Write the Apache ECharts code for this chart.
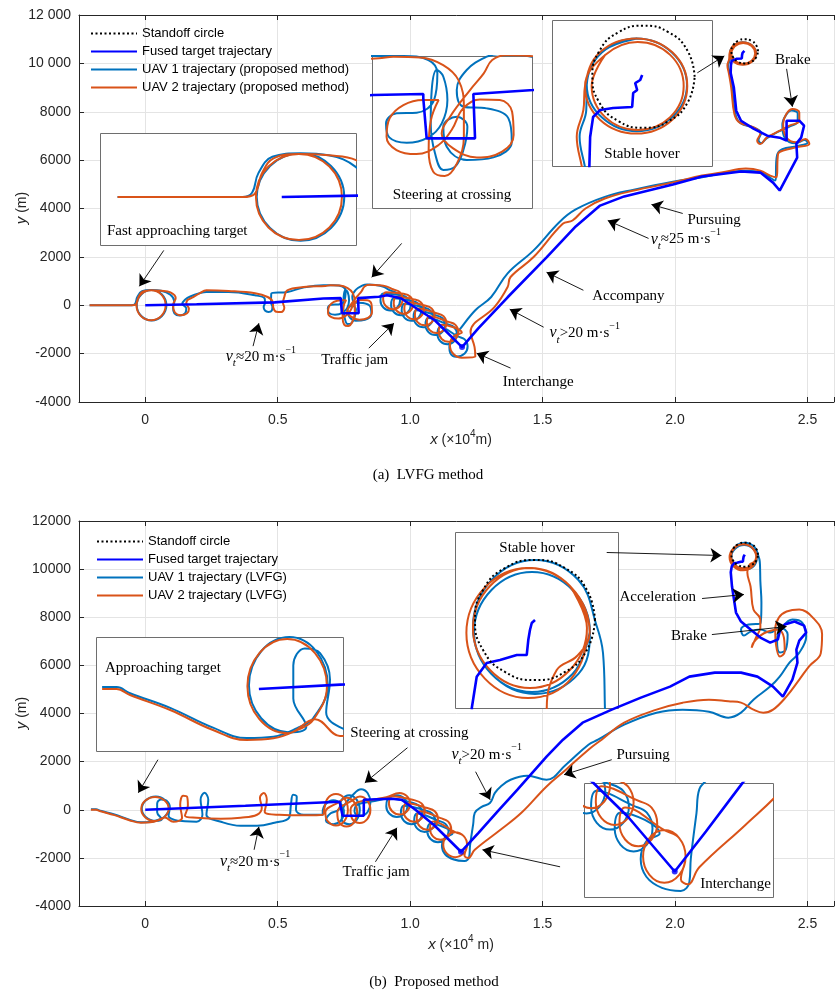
<!DOCTYPE html>
<html><head><meta charset="utf-8">
<script src="https://cdn.jsdelivr.net/npm/echarts@6/dist/echarts.min.js"></script>
<style>html,body{margin:0;padding:0;background:#fff}#c{width:837px;height:994px}</style>
</head><body><div id="c"></div>
<script>
// ---------- tick labels ----------
const xTickValues = [0, 0.5, 1.0, 1.5, 2.0, 2.5];
const xTickLabels = ['0', '0.5', '1.0', '1.5', '2.0', '2.5'];
const yTickValues = [-4000, -2000, 0, 2000, 4000, 6000, 8000, 10000, 12000];

// ---------- (a) data : x in 10^4 m, y in m ----------
const standoffA = [[2.313,10500],[2.3063,10750],[2.288,10933],[2.263,11000],[2.238,10933],[2.2197,10750],[2.213,10500],[2.2197,10250],[2.238,10067],[2.263,10000],[2.288,10067],[2.3063,10250],[2.313,10500]];
const fusedA = [[0,0],[0.194,40],[0.488,120],[0.6727,282],[0.738,296],[0.738,234],[0.7424,-330],[0.8056,-330],[0.8034,296],[0.8819,352],[0.913,412],[0.965,290],[1.0,40],[1.093,-620],[1.196,-1730],[1.258,-950],[1.368,330],[1.515,1980],[1.625,3260],[1.717,4120],[1.808,4500],[1.992,4990],[2.102,5320],[2.249,5530],[2.322,5485],[2.37,5070],[2.395,4743],[2.421,5279],[2.461,6104],[2.458,6681],[2.476,6928],[2.487,7423],[2.469,7629],[2.421,7629],[2.421,6805],[2.395,6928],[2.348,7011],[2.296,7299],[2.249,7629],[2.231,8042],[2.222,9000],[2.21,9600],[2.2108,9909],[2.2137,10105],[2.2206,10174],[2.2333,10193],[2.2519,10203],[2.2529,10340],[2.2568,10370],[2.2549,10438],[2.2598,10468],[2.2617,10517]];
const uav1A = [[-0.21,0],[-0.05,0],[-0.038,60],[-0.03,340],[-0.012,580],[0.024,630],
 [0.063,446],[0.08,0],[0.063,-446],[0.024,-630],[-0.015,-446],[-0.032,0],[-0.015,446],[0.024,630],
 [0.06,600],[0.095,430],[0.11,150],[0.105,-100],[0.11,-330],[0.13,-420],[0.15,-340],[0.155,-130],[0.14,60],[0.15,230],
 [0.17,360],[0.231,550],[0.315,550],[0.415,412],[0.451,275],[0.452,100],[0.447,-69],[0.452,-215],[0.465,-275],[0.478,-215],[0.48,-69],[0.475,100],[0.476,482],[0.537,550],[0.60,740],
 [0.6727,832],[0.712,832],[0.7446,776],[0.7564,588],[0.752,211],[0.7294,32],[0.7032,23],[0.6893,-119],[0.6936,-316],[0.7163,-392],[0.7446,-316],[0.7621,-119],[0.7695,211],[0.7642,540],[0.7555,635],[0.749,352],[0.7477,-119],[0.7533,-542],[0.7642,-777],[0.7795,-730],[0.7904,-495],[0.7956,-166],[0.7817,-24],[0.7642,-166],[0.7686,-448],[0.7947,-636],[0.8296,-599],[0.8536,-377],[0.8492,-48],[0.8209,93],[0.7904,117],[0.7817,352],[0.7947,635],[0.8209,823],[0.8383,861],
 [0.87,840],[0.90,760],
 [0.925,612],[0.951,490],[0.962,200],[0.951,-90],[0.925,-212],[0.899,-90],[0.888,200],[0.899,490],
 [0.965,412],[0.991,290],[1.002,0],[0.991,-290],[0.965,-412],[0.939,-290],[0.928,0],[0.939,290],
 [1.005,182],[1.031,60],[1.042,-230],[1.031,-520],[1.005,-642],[0.979,-520],[0.968,-230],[0.979,60],
 [1.05,-88],[1.076,-210],[1.087,-500],[1.076,-790],[1.05,-912],[1.024,-790],[1.013,-500],[1.024,-210],
 [1.095,-408],[1.121,-530],[1.132,-820],[1.121,-1110],[1.095,-1232],[1.069,-1110],[1.058,-820],[1.069,-530],
 [1.14,-788],[1.166,-910],[1.177,-1200],[1.166,-1490],[1.14,-1612],[1.114,-1490],[1.103,-1200],[1.114,-910],
 [1.18,-1288],[1.206,-1410],[1.217,-1700],[1.206,-1990],[1.173,-2132],[1.152,-1990],[1.148,-1720],[1.16,-1400],[1.185,-1031],
 [1.246,-206],[1.306,342],[1.368,1320],[1.466,2268],[1.563,3435],[1.625,3960],[1.735,4480],[1.845,4780],[1.992,5110],[2.102,5290],[2.175,5450],[2.267,5560],[2.33,5480],[2.362,5250],[2.377,5155],
 [2.385,6200],[2.405,6450],[2.46,6580],[2.50,6720],[2.49,6830],[2.455,6700],[2.415,6900],[2.405,7450],[2.418,7850],[2.44,8050],[2.463,7930],[2.463,7600],[2.43,7380],[2.39,7180],[2.345,6900],[2.325,6700],[2.315,6830],[2.325,7120],[2.30,7330],[2.247,7530],[2.228,7900],[2.215,9000],[2.206,9600],[2.2005,9912],[2.207,10170],[2.2075,10420],
 [2.2222,10738],[2.2565,10875],[2.2908,10738],[2.3055,10420],[2.2908,10102],[2.2565,9965],[2.2222,10102],[2.2075,10420],[2.2222,10738],[2.2565,10875]];
const uav2A = [[-0.21,0],[-0.05,0],[-0.035,40],[-0.025,350],[-0.01,560],[0.022,620],
 [0.061,438],[0.077,0],[0.061,-438],[0.022,-620],[-0.017,-438],[-0.033,0],[-0.017,438],[0.022,620],
 [0.06,600],[0.095,530],[0.115,300],[0.105,0],[0.112,-300],[0.134,-412],[0.158,-330],[0.165,-144],[0.155,80],[0.16,220],[0.175,300],
 [0.205,495],[0.231,619],[0.315,590],[0.415,495],[0.462,342],[0.481,150],[0.484,-120],[0.495,-270],[0.513,-280],[0.525,-100],[0.52,100],[0.525,342],[0.536,619],[0.598,755],[0.68,800],
 [0.699,823],[0.734,813],[0.764,705],[0.784,493],[0.791,117],[0.791,-307],[0.782,-683],[0.766,-862],[0.751,-801],[0.745,-495],[0.748,-71],[0.758,211],[0.738,211],[0.712,140],[0.694,-48],[0.690,-307],[0.703,-495],[0.729,-552],[0.758,-424],[0.775,-213],[0.790,93],[0.812,220],[0.838,211],[0.854,46],[0.856,-283],[0.841,-519],[0.808,-599],[0.777,-472],[0.762,-260],[0.773,-24],[0.799,352],[0.817,588],[0.828,776],[0.847,846],
 [0.88,830],[0.91,780],
 [0.935,662],[0.961,540],[0.972,250],[0.961,-40],[0.935,-162],[0.909,-40],[0.898,250],[0.909,540],
 [0.975,472],[1.001,350],[1.012,60],[1.001,-230],[0.975,-352],[0.949,-230],[0.938,60],[0.949,350],
 [1.015,242],[1.041,120],[1.052,-170],[1.041,-460],[1.015,-582],[0.989,-460],[0.978,-170],[0.989,120],
 [1.055,-8],[1.081,-130],[1.092,-420],[1.081,-710],[1.055,-832],[1.029,-710],[1.018,-420],[1.029,-130],
 [1.10,-328],[1.126,-450],[1.137,-740],[1.126,-1030],[1.10,-1152],[1.074,-1030],[1.063,-740],[1.074,-450],
 [1.145,-688],[1.171,-810],[1.182,-1100],[1.171,-1390],[1.145,-1512],[1.119,-1390],[1.108,-1100],[1.119,-810],
 [1.195,-1130],[1.1635,-1286],[1.15,-1650],[1.1635,-2014],[1.195,-2170],[1.246,-2132],[1.243,-1720],[1.228,-1101],
 [1.319,-70],[1.368,755],[1.379,1167],[1.466,1992],[1.576,3369],[1.613,3505],[1.662,4000],[1.735,4413],[1.845,4743],[1.992,5073],[2.102,5361],[2.175,5485],[2.267,5650],[2.322,5567],[2.359,5361],[2.383,5291],
 [2.389,6256],[2.408,6392],[2.457,6528],[2.507,6668],[2.493,6875],[2.457,6735],[2.420,6941],[2.408,7493],[2.420,7906],[2.444,8112],[2.469,7972],[2.469,7629],[2.432,7423],[2.396,7217],[2.347,6941],[2.322,6669],[2.310,6800],[2.322,7100],[2.297,7353],[2.243,7559],[2.224,7906],[2.212,9000],[2.203,9600],[2.1977,9912],[2.2042,10174],[2.2058,10409],
 [2.2204,10739],[2.2558,10875],[2.2912,10739],[2.3058,10409],[2.2912,10079],[2.2558,9943],[2.2204,10079],[2.2058,10409],
 [2.2255,10714],[2.2573,10840],[2.2891,10714],[2.3023,10409],[2.2891,10104],[2.2573,9978],[2.2255,10104],[2.2123,10409],[2.2255,10714]];
const markA = [[1.196,-1730]];

// ---------- (b) data ----------
const standoffB = [[2.313,10600],[2.3063,10850],[2.288,11033],[2.263,11100],[2.238,11033],[2.2197,10850],[2.213,10600],[2.2197,10350],[2.238,10167],[2.263,10100],[2.288,10167],[2.3063,10350],[2.313,10600]];
const fusedB = [[0,0],[0.378,166],[0.734,333],[0.745,-250],[0.825,-250],[0.825,416],[0.928,458],[0.968,416],[1.02,0],[1.093,-666],[1.192,-1747],[1.258,-957],[1.332,-42],[1.405,832],[1.515,2205],[1.577,2912],[1.651,3619],[1.761,4160],[1.871,4659],[1.981,5117],[2.054,5533],[2.150,5699],[2.249,5699],[2.311,5533],[2.370,5117],[2.407,4701],[2.443,5408],[2.462,6115],[2.458,6656],[2.469,7030],[2.495,7363],[2.487,7654],[2.451,7821],[2.414,7696],[2.395,7405],[2.388,7072],[2.359,6947],[2.322,7155],[2.285,7488],[2.249,7821],[2.230,8195],[2.215,9277],[2.2103,9867],[2.2144,10127],[2.2227,10242],[2.2338,10267],[2.2478,10308],[2.2561,10308],[2.2574,10433],[2.2588,10517],[2.2603,10575],[2.263,10600]];
const uav1B = [[-0.205,20],[-0.186,20],[-0.1685,-45],[-0.116,-200],[-0.060,-410],[-0.016,-520],[0.019,-505],[0.050,-415],[0.071,-310],[0.09,40],[0.075,400],[0.04,550],[0.003,400],[-0.013,40],[0.003,-310],[0.04,-460],[0.062,-400],[0.045,-100],[0.045,250],[0.06,430],[0.08,380],[0.093,100],[0.088,-250],[0.11,-420],[0.150,-480],[0.194,-499],[0.216,-208],[0.209,416],[0.224,707],[0.238,416],[0.231,-208],[0.286,-499],[0.360,-666],[0.422,-666],[0.488,-541],[0.543,-333],[0.550,208],[0.558,624],[0.572,541],[0.569,0],[0.598,-208],[0.671,-208],
 [0.67,-100],[0.682,250],[0.71,400],[0.738,250],[0.75,-100],[0.738,-450],[0.71,-600],[0.682,-450],[0.70,-150],[0.73,0],[0.742,420],[0.77,600],[0.798,420],[0.81,0],[0.798,-420],[0.77,-600],[0.742,-420],[0.745,0],[0.79,685],[0.815,850],[0.84,685],[0.85,300],[0.84,-85],[0.815,-250],[0.79,-85],[0.80,200],[0.86,350],[0.90,450],
 [0.95,600],[0.978,465],[0.99,150],[0.978,-165],[0.95,-300],[0.922,-165],[0.91,150],[0.922,465],
 [1.005,300],[1.033,165],[1.045,-150],[1.033,-465],[1.005,-600],[0.977,-465],[0.965,-150],[0.977,165],
 [1.055,-20],[1.083,-155],[1.095,-470],[1.083,-785],[1.055,-920],[1.027,-785],[1.015,-470],[1.027,-155],
 [1.105,-450],[1.133,-585],[1.145,-900],[1.133,-1215],[1.105,-1350],[1.077,-1215],[1.065,-900],[1.077,-585],
 [1.16,-1000],[1.132,-1150],[1.12,-1500],[1.132,-1850],[1.165,-2070],[1.205,-2130],[1.223,-1955],
 [1.226,-1500],[1.233,-957],[1.238,-600],[1.244,-125],[1.27,120],[1.302,291],[1.32,700],[1.341,957],[1.379,1248],[1.442,1414],[1.515,1248],[1.588,1872],[1.673,2704],[1.709,2912],[1.808,3536],[1.93,4035],[2.029,4160],[2.128,4077],[2.201,3827],[2.249,4035],[2.296,4576],[2.359,5117],[2.395,5533],[2.432,6115],[2.469,6531],[2.495,7197],[2.480,7779],[2.443,7904],[2.407,7613],[2.385,7072],[2.396,6531],[2.418,6656],[2.425,7280],[2.396,7571],[2.359,7363],[2.322,7488],[2.285,7405],[2.26,7238],[2.249,7488],[2.278,7696],[2.322,7738],[2.326,8611],[2.322,9500],[2.3213,9867],[2.3197,10325],
 [2.3147,10542],[2.2992,10933],[2.263,11100],[2.2268,10933],[2.2113,10542],[2.2268,10151],[2.263,9984],[2.2992,10151],[2.3088,10500],[2.2943,10850],[2.2605,11000],[2.2267,10850],[2.2122,10500],[2.2267,10150],[2.2605,10000],[2.2943,10150],[2.3088,10500]];
const uav2B = [[-0.205,0],[-0.186,0],[-0.1685,-64],[-0.116,-223],[-0.060,-435],[-0.016,-541],[0.019,-523],[0.050,-435],[0.071,-329],[0.089,30],[0.0734,380],[0.037,530],[0.0006,380],[-0.015,30],[0.0006,-320],[0.037,-470],[0.0734,-320],[0.106,-499],[0.139,-333],[0.132,208],[0.143,582],[0.158,541],[0.161,166],[0.150,-250],[0.194,-333],[0.286,-374],[0.360,-333],[0.422,-208],[0.440,83],[0.433,500],[0.448,700],[0.459,416],[0.451,-83],[0.506,-208],[0.600,-230],[0.671,-208],
 [0.675,0],[0.688,460],[0.72,650],[0.752,460],[0.765,0],[0.752,-460],[0.72,-650],[0.688,-460],[0.68,-100],[0.732,324],[0.76,500],[0.788,324],[0.80,-100],[0.788,-524],[0.76,-700],[0.732,-524],[0.725,-100],[0.782,389],[0.81,550],[0.838,389],[0.85,0],[0.838,-389],[0.81,-550],[0.782,-389],[0.775,0],[0.80,300],[0.86,420],[0.91,520],
 [0.96,700],[0.988,565],[1.0,250],[0.988,-65],[0.96,-200],[0.932,-65],[0.92,250],[0.932,565],
 [1.015,400],[1.043,265],[1.055,-50],[1.043,-365],[1.015,-500],[0.987,-365],[0.975,-50],[0.987,265],
 [1.065,70],[1.093,-65],[1.105,-380],[1.093,-695],[1.065,-830],[1.037,-695],[1.025,-380],[1.037,-65],
 [1.115,-350],[1.143,-485],[1.155,-800],[1.143,-1115],[1.115,-1250],[1.087,-1115],[1.075,-800],[1.087,-485],
 [1.17,-930],[1.2015,-1086],[1.215,-1450],[1.2015,-1814],[1.17,-1970],[1.1385,-1814],[1.125,-1450],[1.1385,-1086],[1.17,-930],[1.2015,-1086],[1.215,-1450],[1.205,-1900],[1.22,-2000],[1.244,-1664],
 [1.341,-832],[1.42,-125],[1.515,969],[1.588,1664],[1.673,2496],[1.723,2912],[1.808,3619],[1.93,4160],[2.029,4451],[2.128,4576],[2.201,4505],[2.249,4451],[2.296,4160],[2.333,4035],[2.37,4160],[2.421,4713],[2.469,5408],[2.506,5961],[2.55,6500],[2.555,7300],[2.520,7987],[2.469,8320],[2.421,8237],[2.392,7987],[2.378,7488],[2.381,6864],[2.396,6365],[2.414,6573],[2.411,7155],[2.389,7488],[2.351,7405],[2.322,7238],[2.296,6947],[2.289,6739],[2.307,7197],[2.322,7571],[2.322,7904],[2.296,8320],[2.285,9277],[2.2728,9867],[2.2811,10183],[2.298,10300],
 [2.3086,10492],[2.2932,10872],[2.2572,11034],[2.2212,10872],[2.2058,10492],[2.2212,10112],[2.2572,9950],[2.2932,10112],
 [2.3063,10533],[2.2921,10883],[2.2588,11033],[2.2255,10883],[2.2113,10533],[2.2255,10183],[2.2588,10033],[2.2921,10183],[2.3063,10533],[2.2921,10883]];
const markB = [[1.192,-1747]];

// ---------- annotations (data coordinates of the main plots) ----------
const arrowsA = [[[0.070,2268],[-0.022,784]],[[0.968,2557],[0.855,1155]],[[0.407,-1691],[0.429,-742]],[[0.844,-1773],[0.939,-742]],[[1.379,-2598],[1.251,-1980]],[[1.504,-907],[1.376,-165]],[[1.654,619],[1.515,1361]],[[1.900,2763],[1.746,3505]],[[2.029,3794],[1.911,4165]],[[2.084,9609],[2.186,10310]],[[2.421,9774],[2.443,8207]]];
const arrowsB = [[[0.048,2080],[-0.026,707]],[[0.990,2579],[0.829,1123]],[[1.247,1581],[1.302,416]],[[1.761,2080],[1.581,1456]],[[1.742,10691],[2.175,10566]],[[2.102,8778],[2.260,8944]],[[2.139,7280],[2.421,7613]],[[0.411,-1664],[0.429,-707]],[[0.869,-2163],[0.950,-749]],[[1.566,-2371],[1.273,-1664]]];
const textsA = [{v:'≈20 m·s', at:[0.304,-2144]},{t:'Traffic jam', at:[0.664,-2268]},{t:'Interchange', at:[1.35,-3175]},{v:'>20 m·s', at:[1.526,-1155]},{t:'Accompany', at:[1.687,371]},{v:'≈25 m·s', at:[1.908,2722]},{t:'Pursuing', at:[2.047,3505]},{t:'Brake', at:[2.377,10145]}];
const textsB = [{t:'Steering at crossing', at:[0.774,3203]},{v:'>20 m·s', at:[1.156,2288]},{t:'Pursuing', at:[1.779,2288]},{t:'Acceleration', at:[1.790,8819]},{t:'Brake', at:[1.985,7238]},{v:'≈20 m·s', at:[0.282,-2163]},{t:'Traffic jam', at:[0.745,-2579]}];

const namesA = ['Standoff circle','Fused target trajectary','UAV 1 trajectary (proposed method)','UAV 2 trajectary (proposed method)'];
const namesB = ['Standoff circle','Fused target trajectary','UAV 1 trajectary (LVFG)','UAV 2 trajectary (LVFG)'];

// ---------- layout ----------
const SANS = '"Liberation Sans", Arial, Helvetica, sans-serif';
const SERIF = '"Liberation Serif", "Times New Roman", serif';
const C1 = '#0072BD', C2 = '#D95319', CF = '#0000FF', AX = '#262626';
const mainGrids = [{left:79, top:15, width:777, height:387},{left:79, top:521, width:777, height:385}];
const insets = [
 {p:0, box:[100,133,256,112], x:[-0.2325,0.095], y:[-691,921], label:'Fast approaching target', lx:7, ly:98, align:'left'},
 {p:0, box:[372,56,160,152], x:[0.671,0.880], y:[-1314,833], label:'Steering at crossing', lx:80, ly:139, align:'center'},
 {p:0, box:[552,20,160,146], x:[2.1735,2.330], y:[9625,11056], label:'Stable hover', lx:90, ly:134, align:'center', so:true},
 {p:1, box:[96,637,247,114], x:[-0.213,0.110], y:[-657,551], label:'Approaching target', lx:9, ly:31, align:'left'},
 {p:1, box:[455,532,163,176], x:[2.1963,2.3322], y:[9867,11333], label:'Stable hover', lx:82, ly:16, align:'center', so:true},
 {p:1, box:[584,783,189,114], x:[1.0,1.40], y:[-2250,0], label:'Interchange', lx:187, ly:101, align:'right', mk:true}
];
const plots = [
 {so:standoffA, f:fusedA, u1:uav1A, u2:uav2A, mk:markA, names:namesA, arrows:arrowsA, texts:textsA, yfmt:v=>(Math.abs(v)>=10000? String(v).slice(0,-3)+' '+String(v).slice(-3) : String(v))},
 {so:standoffB, f:fusedB, u1:uav1B, u2:uav2B, mk:markB, names:namesB, arrows:arrowsB, texts:textsB, yfmt:v=>String(v)}
];

function fmtX(v){ for (let i=0;i<xTickValues.length;i++){ if (Math.abs(v-xTickValues[i])<1e-6) return xTickLabels[i]; } return ''; }

const grid = [], xAxis = [], yAxis = [], series = [];
mainGrids.forEach(g=>grid.push(Object.assign({containLabel:false}, g)));
insets.forEach(ins=>grid.push({left:ins.box[0], top:ins.box[1], width:ins.box[2], height:ins.box[3]}));

[0,1].forEach(g=>{
  xAxis.push({type:'value', gridIndex:g, min:-0.25, max:2.6, position:'bottom',
    axisLine:{show:true,onZero:false,lineStyle:{color:AX,width:1}},
    axisTick:{show:true,inside:true,length:5,lineStyle:{color:AX}},
    axisLabel:{show:true,margin:11,fontSize:14,fontFamily:SANS,color:AX,formatter:fmtX},
    splitLine:{show:true,lineStyle:{color:'#e4e4e4',width:1}}});
});
[0,1].forEach(g=>{
  xAxis.push({type:'value', gridIndex:g, min:-0.25, max:2.6, position:'top',
    axisLine:{show:true,onZero:false,lineStyle:{color:AX,width:1}},
    axisTick:{show:true,inside:true,length:5,lineStyle:{color:AX}},
    axisLabel:{show:false}, splitLine:{show:false}});
});
[0,1].forEach(g=>{
  yAxis.push({type:'value', gridIndex:g, min:yTickValues[0], max:yTickValues[yTickValues.length-1], interval:2000,
    axisLine:{show:true,onZero:false,lineStyle:{color:AX,width:1}},
    axisTick:{show:true,inside:true,length:5,lineStyle:{color:AX}},
    axisLabel:{show:true,margin:8,fontSize:14,fontFamily:SANS,color:AX,formatter:plots[g].yfmt},
    splitLine:{show:true,lineStyle:{color:'#e4e4e4',width:1}}});
});
insets.forEach((ins,i)=>{
  xAxis.push({type:'value', gridIndex:2+i, min:ins.x[0], max:ins.x[1], show:false, splitLine:{show:false}});
  yAxis.push({type:'value', gridIndex:2+i, min:ins.y[0], max:ins.y[1], show:false, splitLine:{show:false}});
});

function lineS(name, data, xi, yi, color, width, z, opts){
  return Object.assign({type:'line', name:name, data:data, xAxisIndex:xi, yAxisIndex:yi, symbol:'none', showSymbol:false,
    lineStyle:{color:color,width:width}, itemStyle:{color:color}, z:z, silent:true, animation:false, clip:true}, opts||{});
}
plots.forEach((P,g)=>{
  series.push(lineS(P.names[2], P.u1, g, g, C1, 2, 2, {smooth:0.4}));
  series.push(lineS(P.names[3], P.u2, g, g, C2, 2, 3, {smooth:0.4}));
  series.push(lineS(P.names[1], P.f, g, g, CF, 2.6, 4));
  series.push(lineS(P.names[0], P.so, g, g, '#000', 2, 5, {smooth:0.5, lineStyle:{color:'#000',width:2,type:[2,2.5]}}));
  series.push({type:'scatter', data:P.mk, xAxisIndex:g, yAxisIndex:g, symbolSize:6, itemStyle:{color:CF}, z:5, silent:true, animation:false});
  series.push({type:'lines', coordinateSystem:'cartesian2d', xAxisIndex:g, yAxisIndex:g, polyline:false,
    data:P.arrows.map(c=>({coords:c})), symbol:['none','arrow'], symbolSize:[0,11],
    lineStyle:{color:'#000',width:0.9,opacity:1,curveness:0}, z:8, silent:true, animation:false});
});
insets.forEach((ins,i)=>{
  const P = plots[ins.p], xi = 4+i, yi = 2+i;
  series.push(lineS('in'+i+'a', P.u1, xi, yi, C1, 2, 4, {smooth:0.4}));
  series.push(lineS('in'+i+'b', P.u2, xi, yi, C2, 2, 5, {smooth:0.4}));
  series.push(lineS('in'+i+'c', P.f, xi, yi, CF, 2.6, 6));
  if (ins.so) series.push(lineS('in'+i+'d', P.so, xi, yi, '#000', 2, 7, {smooth:0.5, lineStyle:{color:'#000',width:2,type:[2,2.5]}}));
  if (ins.mk) series.push({type:'scatter', data:P.mk, xAxisIndex:xi, yAxisIndex:yi, symbolSize:6, itemStyle:{color:CF}, z:7, silent:true, animation:false});
});

const legendBase = {orient:'vertical', itemWidth:46, itemHeight:14, itemGap:5, selectedMode:false, itemStyle:{opacity:0}, textStyle:{fontSize:13,fontFamily:SANS,color:'#000'}, padding:0};
const option = {
  animation:false, backgroundColor:'#fff',
  grid:grid, xAxis:xAxis, yAxis:yAxis, series:series,
  legend:[Object.assign({left:90, top:27, data:namesA}, legendBase), Object.assign({left:96, top:535, data:namesB}, legendBase)]
};
const chart = echarts.init(document.getElementById('c'), null, {width:837, height:994});
chart.setOption(option);

// ---------- graphics: inset frames, texts ----------
const gfx = [];
insets.forEach(ins=>{
  const [l,t,w,h] = ins.box;
  gfx.push({type:'rect', z:1, silent:true, shape:{x:l+0.5,y:t+0.5,width:w,height:h}, style:{fill:'#fff', stroke:'#6e6e6e', lineWidth:1}});
  gfx.push({type:'text', z:20, silent:true, x:l+ins.lx, y:t+ins.ly, style:{text:ins.label, fontSize:15, fontFamily:SERIF, fill:'#000', align:ins.align, verticalAlign:'middle'}});
});
const vRich = {
  v:{fontFamily:SERIF, fontStyle:'italic', fontSize:16, lineHeight:24},
  s:{fontFamily:SERIF, fontStyle:'italic', fontSize:11, lineHeight:11, verticalAlign:'bottom'},
  n:{fontFamily:SERIF, fontSize:15, lineHeight:24},
  p:{fontFamily:SERIF, fontSize:10, lineHeight:10, verticalAlign:'top'}
};
plots.forEach((P,g)=>{
  P.texts.forEach(T=>{
    const pt = chart.convertToPixel({gridIndex:g}, T.at);
    if (T.v) {
      gfx.push({type:'text', z:20, silent:true, x:pt[0], y:pt[1], style:{text:'{v|v}{s|t}{n|'+T.v+'}{p|−1}', rich:vRich, fill:'#000', align:'left', verticalAlign:'middle'}});
    } else {
      gfx.push({type:'text', z:20, silent:true, x:pt[0], y:pt[1], style:{text:T.t, fontSize:15, fontFamily:SERIF, fill:'#000', align:'left', verticalAlign:'middle'}});
    }
  });
});
const tRich = {i:{fontFamily:SANS, fontStyle:'italic', fontSize:15, lineHeight:22}, r:{fontFamily:SANS, fontSize:14, lineHeight:22}, s:{fontFamily:SANS, fontSize:10, lineHeight:10, verticalAlign:'top'}};
gfx.push({type:'text', silent:true, x:461, y:440, style:{text:'{i|x}{r| (×10}{s|4}{r|m)}', rich:tRich, fill:AX, align:'center', verticalAlign:'middle'}});
gfx.push({type:'text', silent:true, x:461, y:945, style:{text:'{i|x}{r| (×10}{s|4}{r| m)}', rich:tRich, fill:AX, align:'center', verticalAlign:'middle'}});
gfx.push({type:'text', silent:true, x:22, y:208, rotation:Math.PI/2, style:{text:'{i|y}{r| (m)}', rich:tRich, fill:AX, align:'center', verticalAlign:'middle'}});
gfx.push({type:'text', silent:true, x:22, y:713, rotation:Math.PI/2, style:{text:'{i|y}{r| (m)}', rich:tRich, fill:AX, align:'center', verticalAlign:'middle'}});
gfx.push({type:'text', silent:true, x:428, y:475, style:{text:'(a)  LVFG method', fontSize:15, fontFamily:SERIF, fill:'#000', align:'center', verticalAlign:'middle'}});
gfx.push({type:'text', silent:true, x:434, y:982, style:{text:'(b)  Proposed method', fontSize:15, fontFamily:SERIF, fill:'#000', align:'center', verticalAlign:'middle'}});
chart.setOption({graphic:gfx});
</script></body></html>
